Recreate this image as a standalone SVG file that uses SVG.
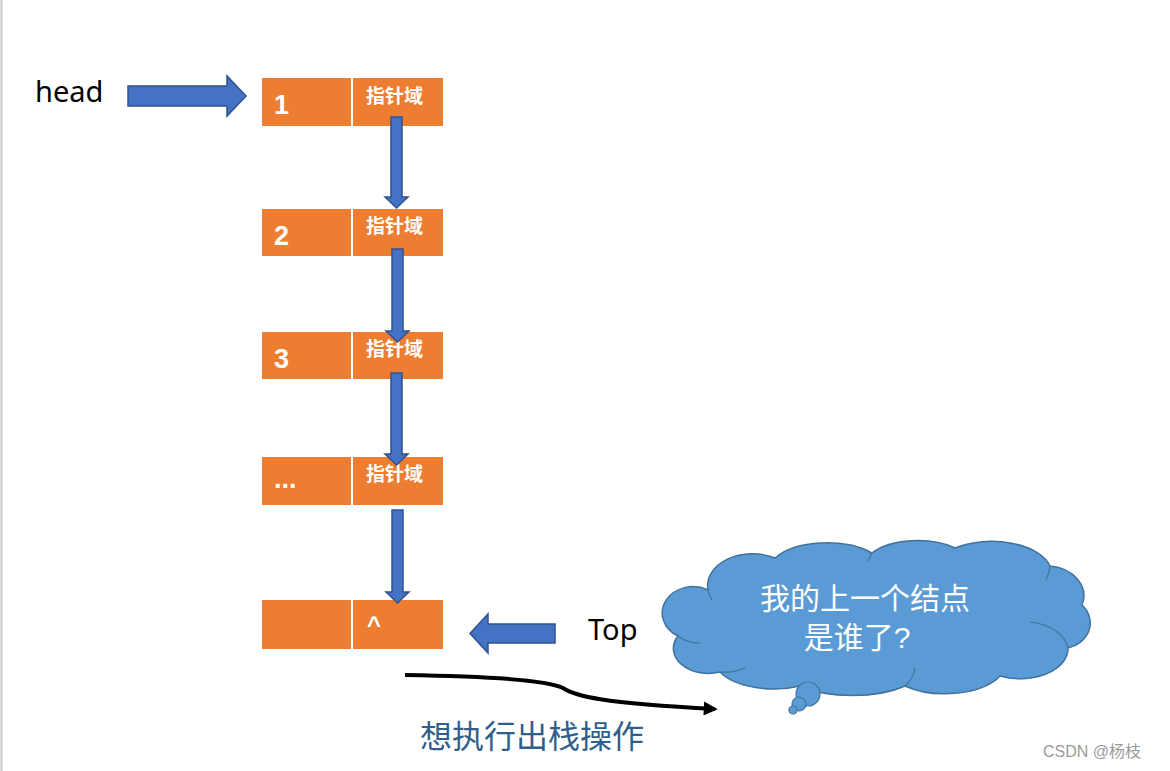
<svg xmlns="http://www.w3.org/2000/svg" width="1170" height="771" viewBox="0 0 1170 771">
<defs>
<style>
.box{fill:#ed7d31;}
.arr{fill:#4472c4;stroke:#2f528f;stroke-width:1.5;}
.num{font-family:"Liberation Sans",Arial,sans-serif;font-weight:bold;font-size:27px;fill:#fff;}
.ptr{font-family:"Noto Sans CJK SC",sans-serif;font-weight:bold;font-size:19px;fill:#fff;}
.lbl{font-family:"Noto Sans","Noto Sans CJK SC",sans-serif;font-size:29px;fill:#000;}
.cloudtxt{font-family:"Liberation Sans","Noto Sans CJK SC",sans-serif;font-size:30px;fill:#fff;text-anchor:middle;}
</style>
<marker id="ah" viewBox="0 0 10 10" refX="8" refY="5" markerWidth="4" markerHeight="3.5" orient="auto" markerUnits="strokeWidth">
<path d="M0,0 L10,5 L0,10 Z" fill="#000"/>
</marker>
</defs>
<rect x="0" y="0" width="1170" height="771" fill="#fff"/>
<line x1="1.5" y1="0" x2="1.5" y2="771" stroke="#c8c8c8" stroke-width="2"/>

<g id="node1">
<rect class="box" x="262" y="78" width="89" height="48"/>
<rect class="box" x="353" y="78" width="90" height="48"/>
<text class="num" x="274" y="114">1</text>
<text class="ptr" x="366" y="103">指针域</text>
</g>
<g id="node2">
<rect class="box" x="262" y="209" width="89" height="47"/>
<rect class="box" x="353" y="209" width="90" height="47"/>
<text class="num" x="274" y="245">2</text>
<text class="ptr" x="366" y="233">指针域</text>
</g>
<g id="node3">
<rect class="box" x="262" y="332" width="89" height="47"/>
<rect class="box" x="353" y="332" width="90" height="47"/>
<text class="num" x="274" y="368">3</text>
<text class="ptr" x="366" y="356">指针域</text>
</g>
<g id="node4">
<rect class="box" x="262" y="457" width="89" height="48"/>
<rect class="box" x="353" y="457" width="90" height="48"/>
<text class="num" x="274" y="488">...</text>
<text class="ptr" x="366" y="481">指针域</text>
</g>
<g id="node5">
<rect class="box" x="262" y="600" width="89" height="49"/>
<rect class="box" x="353" y="600" width="90" height="49"/>
<text class="num" x="367" y="633" style="font-size:24px">^</text>
</g>

<g id="label-head">
<text class="lbl" x="35" y="102">head</text>
</g>
<g id="label-top">
<text class="lbl" x="588" y="640">Top</text>
</g>

<g id="connectors">
<polygon class="arr" points="128,86 227,86 227,76 246,96 227,116 227,106 128,106"/>
<polygon class="arr" points="391,117 402,117 402,197 408,197 396.5,208 385,197 391,197"/>
<polygon class="arr" points="392,249 403,249 403,331 409,331 397.5,342 386,331 392,331"/>
<polygon class="arr" points="391,373 402,373 402,454 408,454 396.5,465 385,454 391,454"/>
<polygon class="arr" points="392,510 403,510 403,592 409,592 397.5,603 386,592 392,592"/>
<polygon class="arr" points="555,624 488,624 488,614 470,633.5 488,653 488,643 555,643"/>
<path d="M405,675 C470,676 545,679 563,688 C575,696 600,703 715,709" fill="none" stroke="#000" stroke-width="4" marker-end="url(#ah)"/>
</g>

<g id="label-pop">
<text x="420" y="748" style="font-family:'Noto Sans CJK SC',sans-serif;font-size:32px;fill:#2f5f8a">想执行出栈操作</text>
</g>

<g id="cloud">
<path d="M678,636 A28,24 0 0 1 708,590 A45,32 0 0 1 775,558 A60,30 0 0 1 872,553 A55,28 0 0 1 955,548 A60,32 0 0 1 1050,566 A38,30 0 0 1 1082,605 A30,26 0 0 1 1068,648 A48,30 0 0 1 1000,676 A60,30 0 0 1 905,686 A70,28 0 0 1 800,686 A60,30 0 0 1 720,672 A35,25 0 0 1 678,636 Z" fill="#5b9bd5" stroke="#41719c" stroke-width="1.5"/>
<path d="M678,636 A30,22 0 0 0 700,643" fill="none" stroke="#41719c" stroke-width="1.2"/>
<path d="M708,590 A30,30 0 0 0 712,600" fill="none" stroke="#41719c" stroke-width="1.2"/>
<path d="M872,553 A40,40 0 0 0 868,562" fill="none" stroke="#41719c" stroke-width="1.2"/>
<path d="M1050,566 A40,40 0 0 1 1046,580" fill="none" stroke="#41719c" stroke-width="1.2"/>
<path d="M1068,648 A45,30 0 0 0 1030,622" fill="none" stroke="#41719c" stroke-width="1.2"/>
<path d="M905,686 A30,30 0 0 0 915,668" fill="none" stroke="#41719c" stroke-width="1.2"/>
<path d="M720,672 A40,30 0 0 0 745,668" fill="none" stroke="#41719c" stroke-width="1.2"/>
<circle cx="808" cy="694" r="12" fill="#5b9bd5" stroke="#41719c" stroke-width="1.2"/>
<circle cx="799" cy="704" r="7" fill="#5b9bd5" stroke="#41719c" stroke-width="1.2"/>
<circle cx="793" cy="710" r="4" fill="#5b9bd5" stroke="#41719c" stroke-width="1.2"/>
<text class="cloudtxt" x="865" y="609">我的上一个结点</text>
<text class="cloudtxt" x="857" y="648">是谁了?</text>
</g>

<text x="1043" y="757" style="font-family:'Liberation Sans','Noto Sans CJK SC',sans-serif;font-size:16px;fill:#9a9a9a">CSDN @杨枝</text>
</svg>
